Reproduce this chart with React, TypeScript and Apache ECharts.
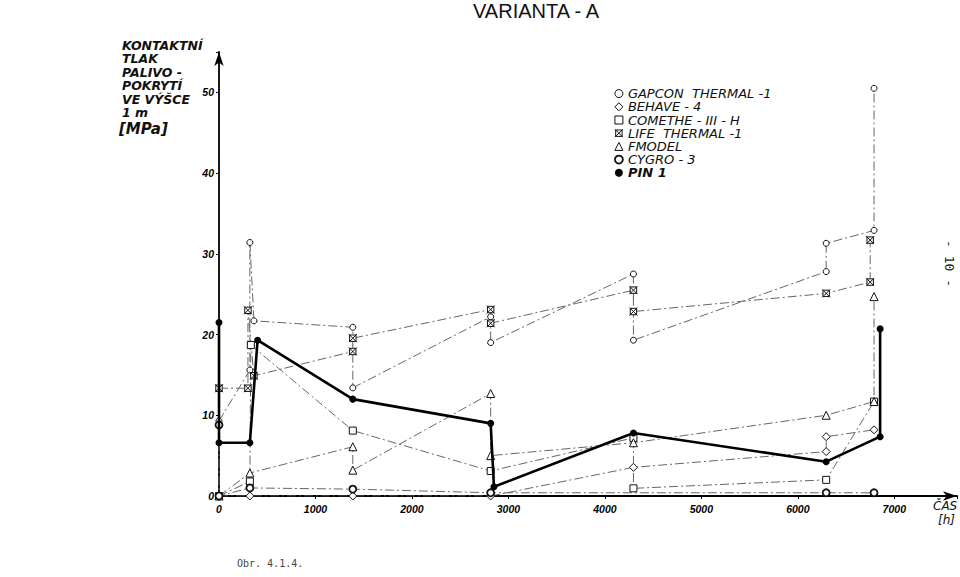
import React, { useEffect, useRef } from "react";
import * as echarts from "echarts";

// time [h], contact pressure [MPa]
const xTickValues = [0, 1000, 2000, 3000, 4000, 5000, 6000, 7000];
const yTickValues = [0, 10, 20, 30, 40, 50];

const gapconThermal1: [number, number][] = [
  [0, 9.3], [320, 15.6], [320, 31.4], [362, 21.7], [1387, 20.9], [1387, 13.4],
  [2816, 22.2], [2816, 19.0], [4296, 27.5], [4296, 19.3], [6294, 27.8],
  [6294, 31.3], [6790, 32.9], [6790, 50.5],
];
const behave4: [number, number][] = [
  [0, 0], [320, 0], [1387, 0], [2816, 0], [4296, 3.55], [6294, 5.5],
  [6294, 7.35], [6790, 8.2],
];
const comethe3H: [number, number][] = [
  [0, 0], [320, 1.8], [330, 18.7], [1387, 8.1], [2816, 3.1], [4296, 7.2],
  [4296, 0.95], [6294, 2.0], [6790, 11.7],
];
const lifeThermal1: [number, number][] = [
  [0, 13.35], [300, 13.35], [300, 23.0], [362, 14.9], [1387, 17.9],
  [1387, 19.55], [2816, 23.1], [2816, 21.4], [4296, 25.5], [4296, 22.85],
  [6294, 25.1], [6750, 26.5], [6750, 31.7],
];
const fmodel: [number, number][] = [
  [0, 0], [320, 2.85], [1387, 6.1], [1387, 3.2], [2816, 12.7], [2816, 5.0],
  [4296, 6.6], [6294, 10.0], [6790, 11.7], [6790, 24.7],
];
const cygro3: [number, number][] = [
  [0, 8.8], [0, 0], [320, 1.0], [1387, 0.85], [2816, 0.4], [6294, 0.4],
  [6790, 0.4],
];
const pin1: [number, number][] = [
  [0, 21.5], [0, 6.6], [320, 6.6], [400, 19.3], [1387, 12.0], [2816, 9.0],
  [2850, 1.15], [4296, 7.8], [6294, 4.25], [6853, 7.35], [6853, 20.7],
];

const seriesNames = [
  "GAPCON  THERMAL -1",
  "BEHAVE - 4",
  "COMETHE - III - H",
  "LIFE  THERMAL -1",
  "FMODEL",
  "CYGRO - 3",
  "PIN 1",
];

const titleLines = ["KONTAKTNÍ", "TLAK", "PALIVO -", "POKRYTÍ", "VE VÝŠCE", "1 m"];

const LIFE_SYMBOL =
  "path://M1,1 L9,1 L9,9 L1,9 Z M0,0 L10,10 M10,0 L0,10";

export default function App() {
  const ref = useRef<HTMLDivElement>(null);
  useEffect(() => {
    if (!ref.current) return;
    const chart = echarts.init(ref.current, null, { renderer: "svg" });
    const thin = { color: "#666", width: 1, type: [9, 3, 2, 3] as any };
    const open = (bw = 1) => ({ color: "#fff", borderColor: "#111", borderWidth: bw });
    const mk = (name: string, data: any, symbol: string, size: number, itemStyle: any, lineStyle: any, z = 2) => ({
      name,
      type: "line",
      data,
      symbol,
      symbolSize: size,
      showAllSymbol: true,
      itemStyle,
      lineStyle,
      z,
      emphasis: { disabled: true },
    });
    const series = [
      mk(seriesNames[0], gapconThermal1, "circle", 6, open(1), thin),
      mk(seriesNames[1], behave4, "diamond", 8, open(1), thin),
      mk(seriesNames[2], comethe3H, "rect", 7, open(1), thin),
      mk(seriesNames[3], lifeThermal1, LIFE_SYMBOL, 8, open(1), thin),
      mk(seriesNames[4], fmodel, "triangle", 8, open(1), thin),
      mk(seriesNames[5], cygro3, "circle", 7, open(1.8), thin),
      mk(seriesNames[6], pin1, "circle", 7, { color: "#000" }, { color: "#000", width: 2.6 }, 4),
    ];
    const icons = ["circle", "diamond", "rect", LIFE_SYMBOL, "triangle", "circle", "circle"];
    const legendText = { fontStyle: "italic", fontSize: 13, lineHeight: 13.2, color: "#111", fontFamily: "DejaVu Sans" };
    const option: any = {
      animation: false,
      backgroundColor: "#fff",
      textStyle: { fontFamily: "Liberation Sans" },
      grid: { left: 219, right: 2, top: 52, bottom: 81, containLabel: false },
      legend: {
        orient: "vertical",
        left: 609,
        top: 82,
        itemWidth: 8,
        itemHeight: 8,
        itemGap: 0,
        selectedMode: false,
        textStyle: legendText,
        data: seriesNames.map((n, i) => ({
          name: n,
          icon: icons[i],
          itemStyle: i === 6 ? { color: "#000" } : { color: "#fff", borderColor: "#111", borderWidth: i === 5 ? 1.8 : 1 },
          textStyle: i === 6 ? { ...legendText, fontWeight: "bold" } : legendText,
        })),
      },
      xAxis: {
        type: "value",
        min: 0,
        max: 7650,
        interval: 1000,
        axisLine: { show: true, lineStyle: { color: "#000", width: 1.8 }, symbol: ["none", "arrow"], symbolSize: [7, 14] },
        axisTick: { show: true, length: 3, lineStyle: { color: "#000" } },
        axisLabel: {
          formatter: (v: number) => (xTickValues.includes(v) ? String(v) : ""),
          fontStyle: "italic",
          fontWeight: "bold",
          fontSize: 10.5,
          color: "#000",
          margin: 7,
        },
        splitLine: { show: false },
      },
      yAxis: {
        type: "value",
        min: 0,
        max: 55,
        interval: 10,
        axisLine: { show: true, lineStyle: { color: "#000", width: 1.8 }, symbol: ["none", "arrow"], symbolSize: [7, 14] },
        axisTick: { show: true, length: 3, lineStyle: { color: "#000" } },
        axisLabel: {
          formatter: (v: number) => (yTickValues.includes(v) ? String(v) : ""),
          fontStyle: "italic",
          fontWeight: "bold",
          fontSize: 10.5,
          color: "#000",
          margin: 5,
        },
        splitLine: { show: false },
      },
      series,
      graphic: [
        { type: "text", x: 536, y: 1, style: { text: "VARIANTA - A", fontSize: 20, fill: "#111", fontFamily: "Liberation Sans", textAlign: "center" } },
        ...titleLines.map((t, i) => ({
          type: "text",
          x: 122,
          y: 39 + i * 13.4,
          style: { text: t, fontSize: 12.5, fontWeight: "bold", fontStyle: "italic", fill: "#111", fontFamily: "DejaVu Sans" },
        })),
        { type: "text", x: 119, y: 121, style: { text: "[MPa]", fontSize: 15, fontWeight: "bold", fontStyle: "italic", fill: "#111", fontFamily: "DejaVu Sans" } },
        { type: "text", x: 933, y: 500, style: { text: "ČAS", fontSize: 12, fontStyle: "italic", fill: "#111", fontFamily: "DejaVu Sans" } },
        { type: "text", x: 938, y: 514, style: { text: "[h]", fontSize: 12, fontStyle: "italic", fill: "#111", fontFamily: "DejaVu Sans" } },
        { type: "text", x: 956, y: 240, rotation: -Math.PI / 2, style: { text: "- 10 -", fontSize: 13, fill: "#222", fontFamily: "DejaVu Sans Mono" } },
        { type: "text", x: 237, y: 558, style: { text: "Obr. 4.1.4.", fontSize: 10, fill: "#444", fontFamily: "DejaVu Sans Mono" } },
      ],
    };
    chart.setOption(option);
    return () => chart.dispose();
  }, []);
  return (
    <div
      ref={ref}
      style={{ position: "fixed", left: 0, top: 0, width: 960, height: 577, background: "#fff" }}
    />
  );
}
